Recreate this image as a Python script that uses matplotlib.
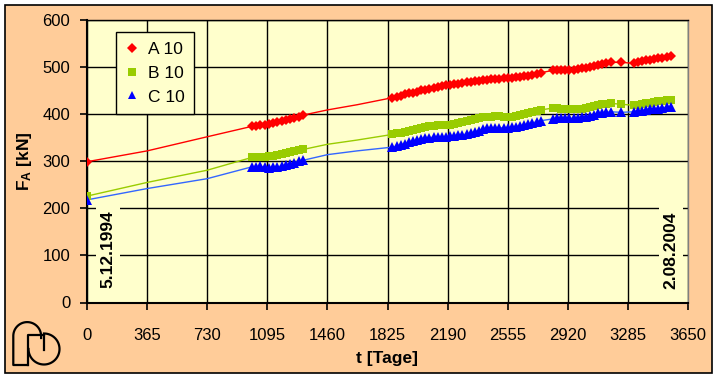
import numpy as np
import matplotlib
matplotlib.use("Agg")
import matplotlib.pyplot as plt
from matplotlib.lines import Line2D
from matplotlib.patches import Rectangle

plt.rcParams['font.family'] = ['Liberation Sans', 'DejaVu Sans']
plt.rcParams['mathtext.fontset'] = 'custom'
plt.rcParams['mathtext.bf'] = 'Liberation Sans:bold'
plt.rcParams['mathtext.rm'] = 'Liberation Sans'

# ---------------- data ----------------
days_marked = [0,
    1000, 1026, 1052, 1078, 1104, 1130, 1156, 1182, 1208, 1234, 1260, 1286, 1312,
    1855, 1880, 1905, 1930, 1955, 1980, 2005, 2030, 2055, 2080, 2105, 2130, 2155,
    2180, 2205, 2230, 2255, 2280, 2305, 2330, 2355, 2380, 2405, 2430, 2455, 2480,
    2505, 2530, 2555, 2580, 2605, 2630, 2655, 2680, 2705, 2730, 2755,
    2830, 2855, 2880, 2905, 2930, 2955, 2980, 3005, 3030, 3055, 3080, 3105, 3130, 3155, 3180,
    3245,
    3320, 3345, 3370, 3395, 3420, 3445, 3470, 3495, 3520, 3545]

A_marked = [299,
    374, 375, 376, 378, 379, 381, 383, 385, 387, 389, 392, 395, 398,
    435, 437, 439, 442, 444, 446, 448, 451, 452, 454, 456, 458, 459,
    461, 463, 464, 465, 466, 468, 469, 470, 471, 472, 473, 474, 475,
    475, 476, 477, 477, 478, 479, 481, 482, 484, 486, 488,
    493, 494, 494, 493, 493, 494, 495, 497, 499, 501, 503, 505, 507, 508, 510,
    510,
    508, 510, 512, 514, 515, 517, 519, 520, 522, 523]

B_marked = [226,
    308, 308, 309, 310, 311, 312, 313, 315, 317, 319, 321, 323, 325,
    357, 359, 361, 363, 365, 367, 369, 371, 373, 374, 375, 376, 376,
    376, 377, 379, 381, 383, 385, 387, 389, 391, 393, 394, 395, 396,
    396, 395, 394, 394, 396, 399, 401, 403, 405, 407, 409,
    413, 413, 412, 411, 410, 410, 411, 412, 414, 416, 418, 420, 421, 422, 423,
    421,
    419, 420, 421, 423, 424, 425, 427, 428, 430, 431]

C_marked = [218,
    288, 287, 289, 287, 286, 287, 288, 290, 292, 294, 297, 300, 302,
    330, 332, 335, 337, 340, 343, 345, 348, 349, 350, 351, 351, 352,
    352, 353, 354, 355, 356, 358, 360, 362, 365, 368, 370, 370, 371,
    371, 371, 371, 372, 373, 375, 377, 379, 381, 384, 386,
    390, 391, 391, 391, 391, 391, 392, 393, 394, 396, 399, 402, 403, 404, 405,
    404,
    405, 406, 407, 408, 410, 411, 412, 413, 415, 416]

# readings of the line between measurement campaigns (no markers)
days_unmarked = [365, 730, 1460, 1640]
A_unmarked = [322, 352, 409, 420]
B_unmarked = [255, 281, 336, 345]
C_unmarked = [242, 263, 314, 322]

x_ticks = [0, 365, 730, 1095, 1460, 1825, 2190, 2555, 2920, 3285, 3650]
y_ticks = [0, 100, 200, 300, 400, 500, 600]
series_labels = ['A 10', 'B 10', 'C 10']
date_start = '5.12.1994'
date_end = '2.08.2004'

# ---------------- figure ----------------
W, H = 719, 379
fig = plt.figure(figsize=(W / 100, H / 100), dpi=100, facecolor='white')

def px(x, y):
    return x / W, 1 - y / H

# outer chart area
x0, y0 = px(5, 373)
fig.patches.append(Rectangle((x0, y0), 707 / W, 368 / H, transform=fig.transFigure,
                             facecolor='#FFCC99', edgecolor='black', lw=1.2, zorder=-5))

l, b = px(87, 302.5)
r, t = px(688, 20)
ax = fig.add_axes([l, b, r - l, t - b])
ax.set_zorder(2)
ax.set_facecolor('#FFFFCC')

colors_line = ['#FF0000', '#99CC00', '#3366FF']
colors_mark = ['#FF0000', '#99CC00', '#0000FF']
markers = ['D', 's', '^']
msizes = [5.5, 6.0, 6.5]

all_marked = [A_marked, B_marked, C_marked]
all_unmarked = [A_unmarked, B_unmarked, C_unmarked]
handles = []
for i in range(3):
    d = np.array(days_marked + days_unmarked)
    v = np.array(all_marked[i] + all_unmarked[i])
    order = np.argsort(d)
    ax.plot(d[order], v[order], color=colors_line[i], lw=1.0, zorder=3)
    ax.plot(days_marked, all_marked[i], linestyle='none', marker=markers[i],
            color=colors_mark[i], markersize=msizes[i], markeredgewidth=0, zorder=4)
    handles.append(Line2D([], [], linestyle='none', marker=markers[i],
                          color=colors_mark[i], markersize=msizes[i] - 0.5, markeredgewidth=0))

ax.set_xlim(0, 3650)
ax.set_ylim(0, 600)
ax.set_xticks(x_ticks)
ax.set_yticks(y_ticks)
ax.grid(True, color='black', lw=1.0, zorder=1)
ax.set_axisbelow(True)
ax.tick_params(axis='both', direction='out', length=5, width=1.2, labelsize=12,
               colors='black')
ax.tick_params(axis='x', pad=13)
ax.tick_params(axis='y', pad=7)
for s in ['left', 'bottom']:
    ax.spines[s].set_color('black')
    ax.spines[s].set_linewidth(1.5)
ax.spines['top'].set_color('black')
ax.spines['top'].set_linewidth(1.0)
ax.spines['right'].set_color('#808080')
ax.spines['right'].set_linewidth(1.0)

ax.set_xlabel('t [Tage]', fontsize=12.5, fontweight='bold', labelpad=6)
ax.set_ylabel(r'$\mathbf{F_{A}}$ $\mathbf{[kN]}$', fontsize=12.5, labelpad=6)

leg = ax.legend(handles, series_labels, loc='upper left', bbox_to_anchor=(0.048, 0.957),
                borderaxespad=0, frameon=True, fancybox=False, fontsize=12.5,
                handlelength=0.8, handletextpad=0.5, labelspacing=0.5,
                borderpad=0.55, framealpha=1)
leg.get_frame().set_facecolor('#FFFFCC')
leg.get_frame().set_edgecolor('black')
leg.get_frame().set_linewidth(1.0)
leg.set_zorder(6)

bbox = dict(facecolor='#FFFFCC', edgecolor='none', pad=3)
ax.text(128, 113, date_start, rotation=90, ha='center', va='center', fontsize=12.5,
        fontweight='bold', bbox=bbox, zorder=5)
ax.text(3547, 111, date_end, rotation=90, ha='center', va='center', fontsize=12.5,
        fontweight='bold', bbox=bbox, zorder=5)

# logo (pixel coordinates)
def fline(pts, **kw):
    xs = [p[0] / W for p in pts]
    ys = [1 - p[1] / H for p in pts]
    fig.add_artist(Line2D(xs, ys, transform=fig.transFigure, color='black',
                          lw=1.6, solid_joinstyle='round', **kw))

th = np.linspace(np.pi, 2 * np.pi, 40)
arch = [(27.7, 365), (13.3, 365), (13.3, 336)] + \
       [(27.2 + 13.9 * np.cos(a), 336 + 13.9 * np.sin(a)) for a in th] + [(41.1, 338)]
fline(arch)
fline([(27.7, 365), (27.7, 335), (44, 335)])
th2 = np.linspace(-np.pi / 2, np.pi, 60)
fline([(44 + 15.5 * np.cos(a), 349 + 15.5 * np.sin(a)) for a in th2])
fline([(44, 335), (44, 350)])

fig.savefig('out.png', dpi=100, facecolor='white')
